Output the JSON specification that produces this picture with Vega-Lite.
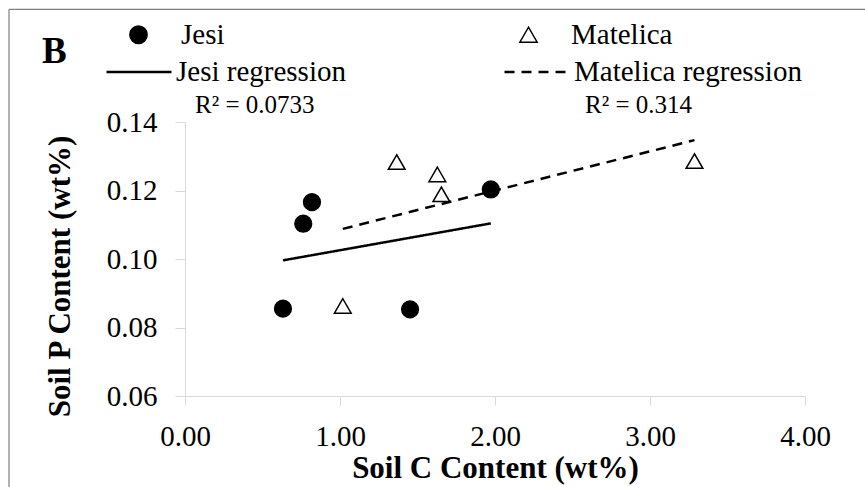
{
  "$schema": "https://vega.github.io/schema/vega-lite/v6.json",
  "width": 620,
  "height": 274,
  "autosize": {"type": "none"},
  "padding": {"left": 185, "top": 122, "right": 60, "bottom": 91},
  "background": "white",
  "config": {"view": {"stroke": null}, "font": "Times New Roman, Liberation Serif, serif"},
  "title": {
    "text": "B",
    "anchor": "start",
    "frame": "group",
    "font": "Times New Roman, Liberation Serif, serif",
    "fontSize": 37,
    "fontWeight": "bold",
    "color": "black",
    "dx": -143,
    "dy": 67,
    "offset": 5
  },
  "datasets": {
    "points": [
      {"site": "Jesi", "x": 0.632, "y": 0.0855},
      {"site": "Jesi", "x": 0.763, "y": 0.1103},
      {"site": "Jesi", "x": 0.819, "y": 0.1166},
      {"site": "Jesi", "x": 1.452, "y": 0.0853},
      {"site": "Jesi", "x": 1.973, "y": 0.1203},
      {"site": "Matelica", "x": 1.018, "y": 0.0863},
      {"site": "Matelica", "x": 1.366, "y": 0.1283},
      {"site": "Matelica", "x": 1.628, "y": 0.1247},
      {"site": "Matelica", "x": 1.654, "y": 0.1189},
      {"site": "Matelica", "x": 3.287, "y": 0.1286}
    ],
    "lines": [
      {"series": "Jesi regression", "r2": "R² = 0.0733", "x": 0.632, "y": 0.0996},
      {"series": "Jesi regression", "r2": "R² = 0.0733", "x": 1.973, "y": 0.1104},
      {"series": "Matelica regression", "r2": "R² = 0.314", "x": 1.018, "y": 0.1088},
      {"series": "Matelica regression", "r2": "R² = 0.314", "x": 3.287, "y": 0.1347}
    ]
  },
  "layer": [
    {
      "data": {"name": "points"},
      "mark": {"type": "point", "filled": true, "opacity": 1, "strokeWidth": 1.5, "size": 280},
      "encoding": {
        "x": {
          "field": "x",
          "type": "quantitative",
          "scale": {"domain": [0, 4], "nice": false, "zero": false},
          "axis": {
            "title": "Soil C Content (wt%)",
            "values": [0, 1, 2, 3, 4],
            "format": ".2f",
            "grid": false,
            "domainColor": "#d9d9d9",
            "tickColor": "#d9d9d9",
            "tickSize": 9,
            "labelFont": "Times New Roman, Liberation Serif, serif",
            "labelFontSize": 29,
            "labelColor": "black",
            "labelPadding": 17,
            "labelFlush": false,
            "labelOverlap": false,
            "titleFont": "Times New Roman, Liberation Serif, serif",
            "titleFontSize": 31,
            "titleFontWeight": "bold",
            "titleColor": "black",
            "titleX": 310,
            "titleY": 72,
            "titleBaseline": "middle",
            "titleAlign": "center"
          }
        },
        "y": {
          "field": "y",
          "type": "quantitative",
          "scale": {"domain": [0.06, 0.14], "nice": false, "zero": false},
          "axis": {
            "title": "Soil P Content (wt%)",
            "values": [0.06, 0.07, 0.08, 0.09, 0.1, 0.11, 0.12, 0.13, 0.14],
            "format": ".2f",
            "grid": false,
            "domainColor": "#d9d9d9",
            "tickColor": "#d9d9d9",
            "tickSize": 10,
            "labelFont": "Times New Roman, Liberation Serif, serif",
            "labelFontSize": 29,
            "labelColor": "black",
            "labelPadding": 18,
            "labelFlush": false,
            "labelOverlap": false,
            "titleFont": "Times New Roman, Liberation Serif, serif",
            "titleFontSize": 31,
            "titleFontWeight": "bold",
            "titleColor": "black",
            "titleX": -125,
            "titleY": 154,
            "titleAngle": 270,
            "titleBaseline": "middle",
            "titleAlign": "center"
          }
        },
        "shape": {
          "field": "site",
          "type": "nominal",
          "scale": {"domain": ["Jesi", "Matelica"], "range": ["circle", "triangle-up"]},
          "legend": {
            "orient": "none",
            "legendX": -61,
            "legendY": -102,
            "direction": "horizontal",
            "columns": 2,
            "title": null,
            "padding": 0,
            "labelFont": "Times New Roman, Liberation Serif, serif",
            "labelFontSize": 29,
            "labelColor": "black",
            "labelOffset": 28,
            "labelLimit": 600,
            "columnPadding": 289,
            "symbolSize": 300,
            "symbolStrokeWidth": 1.5
          }
        },
        "fill": {
          "field": "site",
          "type": "nominal",
          "scale": {"domain": ["Jesi", "Matelica"], "range": ["black", "white"]}
        },
        "stroke": {
          "field": "site",
          "type": "nominal",
          "scale": {"domain": ["Jesi", "Matelica"], "range": ["black", "black"]}
        }
      }
    },
    {
      "data": {"name": "lines"},
      "mark": {"type": "line", "color": "black", "strokeWidth": 2.5},
      "encoding": {
        "x": {"field": "x", "type": "quantitative"},
        "y": {"field": "y", "type": "quantitative"},
        "strokeDash": {
          "field": "series",
          "type": "nominal",
          "scale": {"domain": ["Jesi regression", "Matelica regression"], "range": [[1, 0], [10, 7]]},
          "legend": {
            "orient": "none",
            "legendX": -80,
            "legendY": -84,
            "direction": "horizontal",
            "columns": 2,
            "title": null,
            "padding": 0,
            "labelFont": "Times New Roman, Liberation Serif, serif",
            "labelFontSize": 29,
            "labelColor": "black",
            "labelOffset": 3,
            "labelLimit": 600,
            "columnPadding": 153,
            "symbolType": "stroke",
            "symbolSize": 4225,
            "symbolStrokeColor": "black",
            "symbolStrokeWidth": 2.5
          }
        },
        "opacity": {
          "field": "r2",
          "type": "ordinal",
          "scale": {"domain": ["R² = 0.0733", "R² = 0.314"], "range": [1, 1]},
          "legend": {
            "orient": "none",
            "legendX": -15,
            "legendY": -30,
            "direction": "horizontal",
            "columns": 2,
            "title": null,
            "padding": 0,
            "labelFont": "Times New Roman, Liberation Serif, serif",
            "labelFontSize": 25,
            "labelColor": "black",
            "labelOffset": 0,
            "labelLimit": 600,
            "columnPadding": 245,
            "symbolSize": 0,
            "symbolStrokeWidth": 0,
            "symbolOpacity": 0
          }
        }
      }
    },
    {
      "data": {"values": [{}]},
      "mark": {"type": "rule", "color": "#7f7f7f", "strokeWidth": 1.2, "clip": false},
      "encoding": {
        "x": {"datum": -1.1355, "type": "quantitative"},
        "y": {"datum": 0.1729, "type": "quantitative"},
        "y2": {"datum": 0.0333}
      }
    },
    {
      "data": {"values": [{}]},
      "mark": {"type": "rule", "color": "#7f7f7f", "strokeWidth": 1.2, "clip": false},
      "encoding": {
        "x": {"datum": -1.1355, "type": "quantitative"},
        "x2": {"datum": 4.39},
        "y": {"datum": 0.1729, "type": "quantitative"}
      }
    }
  ]
}
